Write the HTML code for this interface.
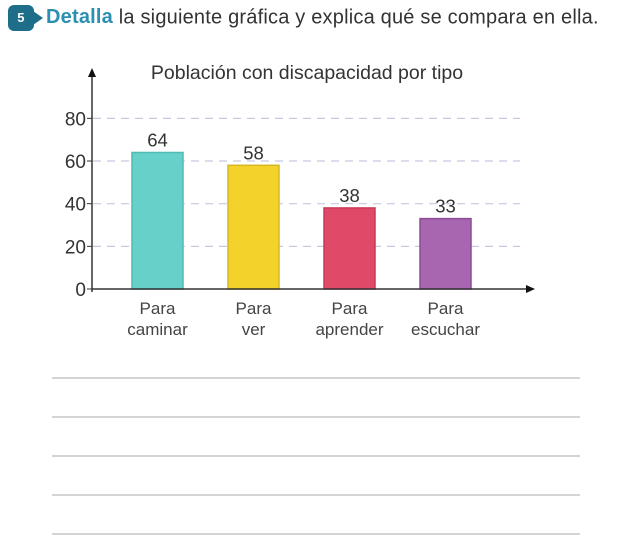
<!DOCTYPE html>
<html><head><meta charset="utf-8"><style>
body{margin:0;width:642px;height:552px;background:#fff;font-family:"Liberation Sans",sans-serif;overflow:hidden;position:relative}
#hdr{position:absolute;left:8px;top:5px;font-size:20px;color:#333;white-space:nowrap;letter-spacing:0.2px}
#badge{display:inline-block;width:26px;height:26px;border-radius:6px;background:#1e6e8a;color:#fff;font-weight:bold;font-size:13px;line-height:26px;text-align:center;vertical-align:middle;margin-right:6px;position:relative}
#badge:after{content:"";position:absolute;right:-9px;top:6px;border-left:10px solid #1e6e8a;border-top:7px solid transparent;border-bottom:7px solid transparent}
.kw{color:#2a8fb0;font-weight:bold;margin-left:6px}
</style></head><body>
<div id="hdr"><span id="badge">5</span><span class="kw">Detalla</span> la siguiente gráfica y explica qué se compara en ella.</div>
<svg id="chart" width="642" height="552" style="position:absolute;left:0;top:0"></svg>
<script>
const categories1=["Para","Para","Para","Para"];
const categories2=["caminar","ver","aprender","escuchar"];
const values=[64,58,38,33];
const ticks=[0,20,40,60,80];
const colors=["#66d0c9","#f3d22b","#e04a68","#a866b0"];
const strokes=["#4fbcb4","#d8b820","#c83a58","#8e4c98"];
const svg=document.getElementById('chart');const NS="http://www.w3.org/2000/svg";
function mk(t,a,p){const e=document.createElementNS(NS,t);for(const k in a)e.setAttribute(k,a[k]);(p||svg).appendChild(e);return e;}
const y=v=>289-v*2.133;const x=i=>132+i*96;const bw=51;
let t=mk('text',{x:307,y:79,'text-anchor':'middle','font-size':19.5,fill:'#333'});t.textContent="Población con discapacidad por tipo";

ticks.forEach(v=>{
 if(v>0){const l=mk('line',{x1:93,x2:520,y1:y(v),y2:y(v),stroke:'#c8c8e0','stroke-dasharray':'8,6','stroke-width':1.2});
 }
 const tx=mk('text',{x:86,y:y(v)+7,'text-anchor':'end','font-size':19,fill:'#333'});tx.textContent=v;
 
 mk('line',{x1:87,x2:92,y1:y(v),y2:y(v),stroke:'#333'});
});
values.forEach((v,i)=>{
 const r=mk('rect',{x:x(i),y:y(v),width:bw,height:289-y(v),fill:colors[i],stroke:strokes[i],'stroke-width':1.5});
 
 const lb=mk('text',{x:x(i)+bw/2,y:y(v)-6,'text-anchor':'middle','font-size':18.5,fill:'#333'});lb.textContent=v;
 
 const c1=mk('text',{x:x(i)+bw/2,y:314,'text-anchor':'middle','font-size':17,fill:'#444'});c1.textContent=categories1[i];
 
 const c2=mk('text',{x:x(i)+bw/2,y:335,'text-anchor':'middle','font-size':17,fill:'#444'});c2.textContent=categories2[i];
 
});
const ya=mk('line',{x1:92,x2:92,y1:292,y2:74,stroke:'#333','stroke-width':1.5});

mk('path',{d:'M92,68 L88,77 L96,77 Z',fill:'#111'});
const xa=mk('line',{x1:92,x2:530,y1:289,y2:289,stroke:'#333','stroke-width':1.5});

mk('path',{d:'M535,289 L526,285 L526,293 Z',fill:'#111'});
[378,417,456,495,534].forEach(yy=>{const l=mk('line',{x1:52,x2:580,y1:yy,y2:yy,stroke:'#bbb','stroke-width':1.2});
 });
</script>
</body></html>
